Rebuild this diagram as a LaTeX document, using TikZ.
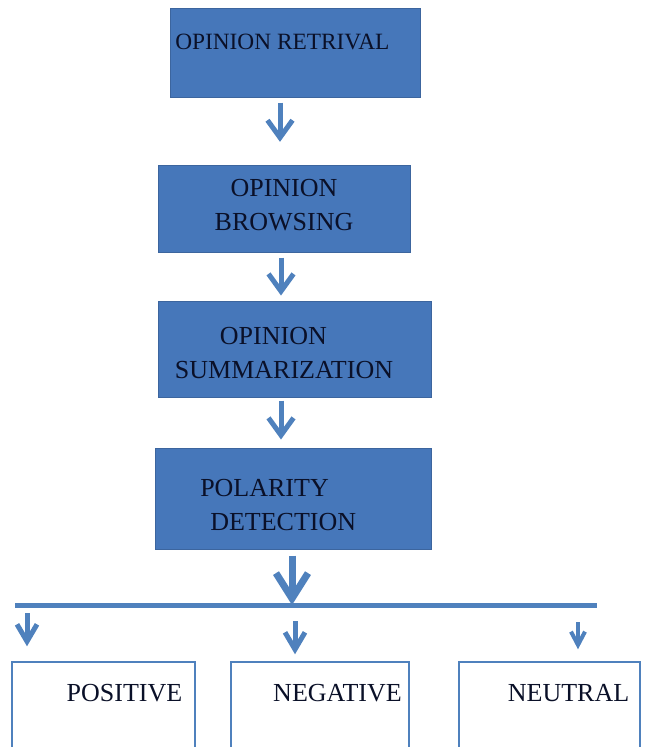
\documentclass[tikz,border=0pt]{standalone}
\usepackage{fontspec}
\setmainfont{Liberation Serif}
\usetikzlibrary{arrows.meta}
\definecolor{boxblue}{RGB}{70,119,186}
\definecolor{lineblue}{RGB}{79,129,189}
\definecolor{inkblue}{RGB}{10,16,40}

\begin{document}
\begin{tikzpicture}[x=0.75pt,y=-0.75pt]
	\clip (0,0) rectangle (644,747);

	\begin{scope}[every node/.style={rectangle, draw=boxblue!85!black, fill=boxblue, line width=0.75pt, inner sep=0pt}]
	    	\node (1) at (295,52.5) [minimum width=187.5pt, minimum height=66.75pt] {};
		\node (2) at (284,208.5) [minimum width=189pt, minimum height=65.25pt] {};
	    	\node (3) at (294.5,349) [minimum width=204.75pt, minimum height=72pt] {};
		\node (4) at (293,498.5) [minimum width=207pt, minimum height=75.75pt] {};
	\end{scope}

	\begin{scope}[every node/.style={rectangle, draw=lineblue, fill=white, line width=1.1pt, inner sep=0pt, minimum height=103.5pt}]
	    	\node (5) at (103.5,731) [minimum width=137.25pt] {};
		\node (6) at (320,731) [minimum width=133.5pt] {};
	    	\node (7) at (549.5,731) [minimum width=135.75pt] {};
	\end{scope}

	\begin{scope}[every node/.style={text=inkblue, inner sep=0pt, font=\fontsize{19.5}{26}\selectfont}]
		\node[anchor=west, font=\fontsize{17.5}{21}\selectfont] (t1) at (175,42) {OPINION RETRIVAL};
		\node[align=center] (t2) at (284,205) {OPINION\\BROWSING};
		\node[align=left] (t3) at (284,353) {\hspace*{33.75pt}OPINION\\SUMMARIZATION};
		\node[align=left, anchor=west] (t4) at (200,505) {POLARITY\\\hspace*{7.5pt}DETECTION};
		\node (t5) at (124.5,693) {POSITIVE};
		\node (t6) at (337.5,693) {NEGATIVE};
		\node (t7) at (568.5,693) {NEUTRAL};
	\end{scope}

	\coordinate (hl) at (15,605);
	\coordinate (hr) at (597,605);
	\coordinate (m) at (292,605);
	\coordinate (b5) at (27,605);
	\coordinate (b6) at (295,605);
	\coordinate (b7) at (578,605);

	\draw[lineblue, line width=3.75pt] (hl) -- (hr);

	\begin{scope}[every edge/.style={draw=lineblue, line width=3.75pt, -{Straight Barb[length=13pt,width=18.75pt]}}]
		\path ([xshift=-11.25pt]1.south) edge[shorten <=3.75pt, shorten >=17pt] ([xshift=-3pt]2.north);
		\path ([xshift=-2.25pt]2.south) edge[shorten <=3.75pt, shorten >=3.75pt] ([xshift=-10.125pt]3.north);
		\path ([xshift=-10.125pt]3.south) edge[shorten <=2.25pt, shorten >=6pt] ([xshift=-9pt]4.north);
		\path ([xshift=-0.75pt]4.south) edge[line width=5.25pt, -{Straight Barb[length=19pt,width=24pt]}, shorten <=4.5pt] (m);
		\path (b5) edge[-{Straight Barb[length=12.75pt,width=15pt]}, shorten <=6pt, shorten >=11.25pt] (b5 |- 5.north);
		\path (b6) edge[-{Straight Barb[length=12.75pt,width=15pt]}, shorten <=12pt, shorten >=5.25pt] (b6 |- 6.north);
		\path (b7) edge[line width=3pt, -{Straight Barb[length=10pt,width=10.5pt]}, shorten <=12.75pt, shorten >=9pt] (b7 |- 7.north);
	\end{scope}
\end{tikzpicture}
\end{document}
